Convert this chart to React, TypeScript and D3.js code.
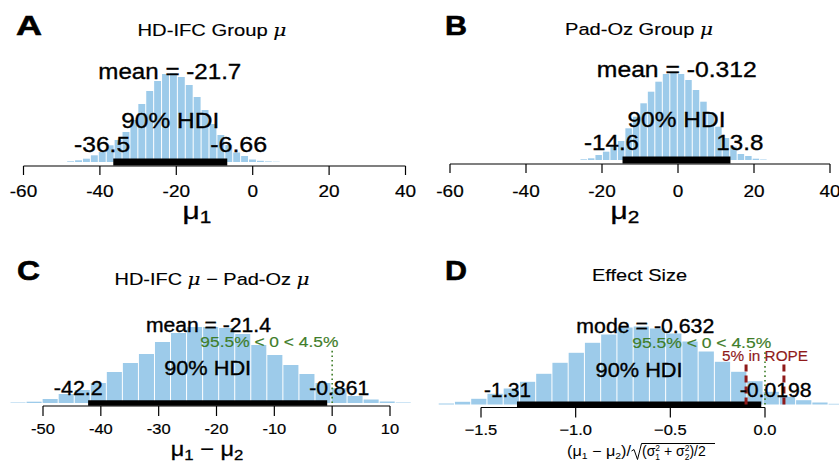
import React from "react";
import * as d3 from "d3";

const FONT = "'Liberation Sans', Arial, Helvetica, sans-serif";
const BAR_FILL = "#9dcbea";
const GREEN = "#3f7d2a";
const RED = "#8f1a1a";

// ---------- Panel A : HD-IFC group mu ----------
const aTicks = [-60, -40, -20, 0, 20, 40];
const aBinStart = -48.7;
const aBinWidth = 2.07;
const aHeights = [0.7, 1.7, 3.3, 6.7, 10, 16.7, 22, 30, 42, 58, 71, 81, 88, 89, 85, 77, 65, 52, 38, 27, 17, 9.5, 6, 2.5, 1.2, 0.6, 0.3];
const aMean = -21.7;
const aHDI = [-36.5, -6.66];

// ---------- Panel B : Pad-Oz group mu ----------
const bTicks = [-60, -40, -20, 0, 20, 40];
const bBinStart = -25.8;
const bBinWidth = 1.97;
const bHeights = [0.7, 1.7, 5, 8.3, 13.3, 19, 31.7, 43.3, 56.7, 68.3, 78.3, 86, 88.3, 86, 80, 70, 58.3, 46.7, 33.3, 22, 13.3, 6, 4, 1.3, 0.5];
const bMean = -0.312;
const bHDI = [-14.6, 13.8];

// ---------- Panel C : difference of means ----------
const cTicks = [-50, -40, -30, -20, -10, 0, 10];
const cBinStart = -55.7;
const cBinWidth = 2.775;
const cHeights = [0.5, 1.3, 4, 9, 13, 20, 31, 40, 49, 61, 70, 76, 76, 75, 69, 58, 48, 38, 29, 20, 15, 7, 3.5, 1.5, 0.5];
const cMean = -21.4;
const cHDI = [-42.2, -0.861];
const cComp = 0;
const cPctBelow = 95.5;
const cPctAbove = 4.5;

// ---------- Panel D : effect size ----------
const dTicks = [-1.5, -1.0, -0.5, 0.0];
const dBinStart = -1.726;
const dBinWidth = 0.0858;
const dHeights = [1, 2.7, 5.7, 10.7, 16, 22.7, 30.7, 41.7, 51.7, 61.7, 70, 77, 78, 76, 71, 63, 53, 42.7, 32.7, 23.3, 12.7, 7.7, 4.3, 2, 0.7];
const dMode = -0.632;
const dHDI = [-1.31, -0.0198];
const dComp = 0;
const dPctBelow = 95.5;
const dPctAbove = 4.5;
const dROPE = [-0.1, 0.1];
const dPctInROPE = 5;

const hdiLabel = "90% HDI";

function ST({ x, y, w, size, anchor = "start", weight = "normal", fill = "#000", children, sw = 0.35 }: any) {
  return (
    <text x={x} y={y} fontSize={size} fontWeight={weight} fill={fill} textAnchor={anchor}
      textLength={w} lengthAdjust="spacingAndGlyphs" fontFamily={FONT}
      stroke={sw > 0 ? fill : "none"} strokeWidth={sw}>
      {children}
    </text>
  );
}

function Panel(p: any) {
  const x = d3.scaleLinear().domain([p.ticks[0], p.ticks[p.ticks.length - 1]]).range(p.tickPx);
  const y = d3.scaleLinear().domain([0, 100]).range([p.base, p.base - 100]);
  const bins = p.heights.map((h: number, i: number) => ({ x0: p.binStart + i * p.binWidth, x1: p.binStart + (i + 1) * p.binWidth, h }));
  const fmt = p.tickFmt || ((t: number) => String(t));
  const mid = (p.hdi[0] + p.hdi[1]) / 2;
  return (
    <g>
      {bins.map((b: any, i: number) => (
        <rect key={i} x={x(b.x0) + 0.5} y={y(b.h)} width={x(b.x1) - x(b.x0) - 1} height={y(0) - y(b.h)} fill={BAR_FILL} />
      ))}
      <line x1={x(p.hdi[0])} x2={x(p.hdi[1])} y1={p.base} y2={p.base} stroke="#000" strokeWidth={p.hdiThick} />
      <line x1={x(p.ticks[0])} x2={x(p.ticks[p.ticks.length - 1])} y1={p.axisY} y2={p.axisY} stroke="#000" strokeWidth={1.2} />
      {p.ticks.map((t: number) => (
        <g key={t}>
          <line x1={x(t)} x2={x(t)} y1={p.axisY} y2={p.axisY + p.tickLen} stroke="#000" strokeWidth={1.2} />
          <text transform={`translate(${x(t)},${p.tickLabelY}) scale(${p.tickSx},1)`} textAnchor="middle"
            fontSize={p.tickFont} fontFamily={FONT} stroke="#000" strokeWidth={0.2}>{fmt(t)}</text>
        </g>
      ))}
      {p.rope && (
        <g>
          {p.rope.range.map((r: number, i: number) => (
            <line key={i} x1={x(r)} x2={x(r)} y1={p.base} y2={p.rope.lineTop} stroke={RED} strokeWidth={3} strokeDasharray="7 4" />
          ))}
        </g>
      )}
      {p.comp && (
        <line x1={x(p.comp.value)} x2={x(p.comp.value)} y1={p.base} y2={p.comp.lineTop} stroke={GREEN} strokeWidth={1.6} strokeDasharray="1.6 3" />
      )}
      <ST x={x(p.center)} y={p.centerY} w={p.centerW} size={p.textSize} anchor="middle">{`${p.centerName} = ${p.center}`}</ST>
      {p.comp && (
        <ST x={x(p.comp.value) - (p.comp.below / 100) * p.comp.w} y={p.comp.y} w={p.comp.w} size={p.comp.size} fill={GREEN} sw={0.15}>
          {`${p.comp.below}% < ${p.comp.value} < ${p.comp.above}%`}
        </ST>
      )}
      {p.rope && (
        <ST x={x((p.rope.range[0] + p.rope.range[1]) / 2)} y={p.rope.y} w={p.rope.w} size={p.rope.size} fill={RED} anchor="middle" sw={0.15}>
          {`${p.rope.pct}% in ROPE`}
        </ST>
      )}
      <ST x={x(mid)} y={p.hdiTextY} w={p.hdiTextW} size={p.textSize} anchor="middle">{hdiLabel}</ST>
      <ST x={x(p.hdi[0]) - 0.7 * p.loW} y={p.loY} w={p.loW} size={p.textSize}>{String(p.hdi[0])}</ST>
      <ST x={x(p.hdi[1]) - 0.3 * p.hiW} y={p.loY} w={p.hiW} size={p.textSize}>{String(p.hdi[1])}</ST>
    </g>
  );
}

const mu = <tspan fontStyle="italic" fontFamily="'DejaVu Serif', serif">μ</tspan>;

export default function App() {
  return (
    <svg width={839} height={469} style={{ position: "absolute", left: 0, top: 0, background: "#fff" }} fontFamily={FONT}>
      <rect width={839} height={469} fill="#fff" />
      {/* Panel letters */}
      <ST x={16} y={35} w={26} size={28} weight="bold" sw={0.6}>A</ST>
      <ST x={445} y={35} w={22} size={28} weight="bold" sw={0.6}>B</ST>
      <ST x={17} y={280} w={23} size={28} weight="bold" sw={0.6}>C</ST>
      <ST x={445} y={280} w={22} size={28} weight="bold" sw={0.6}>D</ST>

      {/* Titles */}
      <ST x={212} y={35.5} w={149} size={17} anchor="middle" sw={0.15}>HD-IFC Group {mu}</ST>
      <ST x={639} y={35} w={148} size={17} anchor="middle" sw={0.15}>Pad-Oz Group {mu}</ST>
      <ST x={212} y={285} w={195} size={17} anchor="middle" sw={0.15}>HD-IFC {mu} − Pad-Oz {mu}</ST>
      <ST x={639.5} y={280.7} w={95} size={17} anchor="middle" sw={0.15}>Effect Size</ST>

      <Panel ticks={aTicks} tickPx={[23.5, 405.5]} binStart={aBinStart} binWidth={aBinWidth} heights={aHeights}
        base={162} axisY={166} tickLen={9} tickLabelY={197} tickFont={16.5} tickSx={1.15}
        hdi={aHDI} hdiThick={7} center={aMean} centerName="mean" centerY={79} centerW={143} textSize={22.5}
        hdiTextY={128} hdiTextW={98} loY={152} loW={56} hiW={57} />
      <Panel ticks={bTicks} tickPx={[450, 830]} binStart={bBinStart} binWidth={bBinWidth} heights={bHeights}
        base={160} axisY={164} tickLen={9} tickLabelY={197} tickFont={16.5} tickSx={1.15}
        hdi={bHDI} hdiThick={7} center={bMean} centerName="mean" centerY={76.7} centerW={160} textSize={22.5}
        hdiTextY={126.7} hdiTextW={98} loY={150} loW={55} hiW={47} />
      <Panel ticks={cTicks} tickPx={[43, 390]} binStart={cBinStart} binWidth={cBinWidth} heights={cHeights}
        base={403} axisY={406} tickLen={10} tickLabelY={434} tickFont={15} tickSx={1.1}
        hdi={cHDI} hdiThick={5.5} center={cMean} centerName="mean" centerY={331.7} centerW={125} textSize={19.5}
        hdiTextY={375} hdiTextW={87} loY={395} loW={49} hiW={60}
        comp={{ value: cComp, below: cPctBelow, above: cPctAbove, y: 346.7, w: 138, size: 14, lineTop: 349 }} />
      <Panel ticks={dTicks} tickPx={[481, 765]} tickFmt={d3.format(".1f")} binStart={dBinStart} binWidth={dBinWidth} heights={dHeights}
        base={404.5} axisY={407.5} tickLen={10} tickLabelY={435} tickFont={15} tickSx={1.1}
        hdi={dHDI} hdiThick={6} center={dMode} centerName="mode" centerY={332.7} centerW={138} textSize={19.5}
        hdiTextY={376.7} hdiTextW={87} loY={396.7} loW={47} hiW={72}
        comp={{ value: dComp, below: dPctBelow, above: dPctAbove, y: 348.3, w: 139, size: 14, lineTop: 351 }}
        rope={{ range: dROPE, pct: dPctInROPE, y: 361, w: 86, size: 15, lineTop: 363 }} />

      {/* x-axis labels */}
      <text transform="translate(197,219) scale(1.3,1)" textAnchor="middle" fontSize={23} fontFamily={FONT} stroke="#000" strokeWidth={0.3}>μ<tspan fontSize={16} dy={4}>1</tspan></text>
      <text transform="translate(625,219) scale(1.3,1)" textAnchor="middle" fontSize={23} fontFamily={FONT} stroke="#000" strokeWidth={0.3}>μ<tspan fontSize={16} dy={4}>2</tspan></text>
      <text transform="translate(207,456) scale(1.12,1)" textAnchor="middle" fontSize={21} fontFamily={FONT} stroke="#000" strokeWidth={0.3}>
        μ<tspan fontSize={15} dy={4}>1</tspan><tspan dy={-4}> − μ</tspan><tspan fontSize={15} dy={4}>2</tspan>
      </text>
      <g fontFamily={FONT}>
        <text x={567} y={456} fontSize={14} textLength={64} lengthAdjust="spacingAndGlyphs">(μ<tspan fontSize={9} dy={3}>1</tspan><tspan dy={-3}> − μ</tspan><tspan fontSize={9} dy={3}>2</tspan><tspan dy={-3}>)/</tspan></text>
        <path d="M 631.5 451 L 634 449.5 L 637.5 459.5 L 641.5 443.5 L 715 443.5" fill="none" stroke="#000" strokeWidth={1} />
        <text x={642} y={456} fontSize={14}>(σ<tspan fontSize={8.5} dy={-5.5}>2</tspan><tspan fontSize={8.5} dx={-4.7} dy={9}>1</tspan><tspan dy={-3.5}> + σ</tspan><tspan fontSize={8.5} dy={-5.5}>2</tspan><tspan fontSize={8.5} dx={-4.7} dy={9}>2</tspan><tspan dy={-3.5}>)/2</tspan></text>
      </g>
    </svg>
  );
}
